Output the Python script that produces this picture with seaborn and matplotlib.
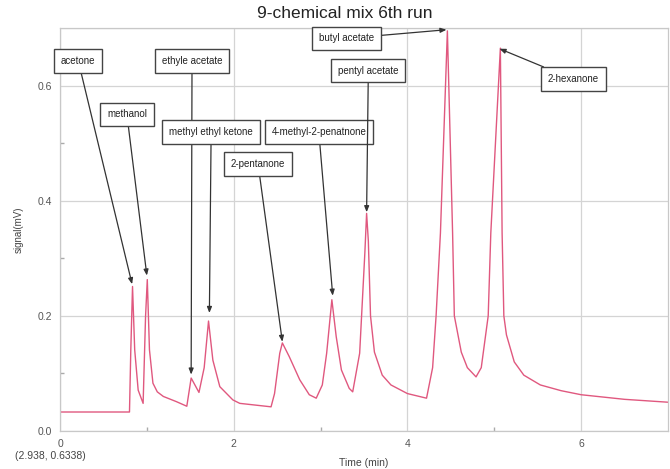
import numpy as np
import pandas as pd
import matplotlib
matplotlib.use("Agg")
import matplotlib.pyplot as plt
import seaborn as sns

# ---- data ----
time_min = [0.00, 0.80, 0.815, 0.835, 0.86, 0.90, 0.957, 0.985, 1.005, 1.03,
            1.07, 1.12, 1.19, 1.34, 1.46, 1.51, 1.60, 1.66, 1.71, 1.76, 1.84,
            1.99, 2.07, 2.25, 2.43, 2.47, 2.53, 2.56, 2.64, 2.76, 2.87, 2.95,
            3.02, 3.07, 3.13, 3.18, 3.24, 3.33, 3.37, 3.45, 3.51, 3.53, 3.55,
            3.575, 3.62, 3.71, 3.81, 4.00, 4.22, 4.29, 4.33, 4.38, 4.46, 4.52,
            4.54, 4.62, 4.69, 4.79, 4.85, 4.93, 4.96, 5.07, 5.09, 5.11, 5.14,
            5.23, 5.34, 5.53, 5.77, 6.00, 6.50, 7.00]
signal_mv = [0.033, 0.033, 0.14, 0.251, 0.141, 0.071, 0.048, 0.199, 0.263, 0.141,
             0.083, 0.068, 0.060, 0.051, 0.043, 0.092, 0.067, 0.11, 0.191, 0.123, 0.077,
             0.054, 0.048, 0.045, 0.042, 0.065, 0.135, 0.153, 0.129, 0.089, 0.063, 0.057,
             0.08, 0.135, 0.228, 0.164, 0.106, 0.074, 0.068, 0.135, 0.31, 0.378, 0.33,
             0.20, 0.137, 0.097, 0.080, 0.065, 0.057, 0.11, 0.20, 0.344, 0.695, 0.344,
             0.20, 0.137, 0.11, 0.094, 0.11, 0.20, 0.344, 0.665, 0.344, 0.20, 0.167,
             0.12, 0.097, 0.080, 0.070, 0.063, 0.055, 0.050]

labels = ["acetone", "methanol", "ethyle acetate", "methyl ethyl ketone",
          "2-pentanone", "4-methyl-2-penatnone", "pentyl acetate",
          "butyl acetate", "2-hexanone"]
peak_x = [0.83, 1.00, 1.51, 1.72, 2.56, 3.14, 3.53, 4.45, 5.06]
peak_y = [0.255, 0.270, 0.098, 0.205, 0.155, 0.235, 0.38, 0.697, 0.664]
box_x = [0.21, 0.77, 1.52, 1.74, 2.28, 2.98, 3.55, 3.30, 5.91]
box_y = [0.643, 0.550, 0.643, 0.519, 0.464, 0.519, 0.626, 0.682, 0.611]

x_ticks = [0, 2, 4, 6]
y_ticks = [0.0, 0.2, 0.4, 0.6]
y_tick_labels = ["0.0", "0.2", "0.4", "0.6"]

df = pd.DataFrame({"Time (min)": time_min, "signal(mV)": signal_mv})

sns.set_theme(style="white")
plt.rcParams["font.family"] = ["Liberation Sans", "DejaVu Sans"]

fig = plt.figure(figsize=(6.7, 4.69), dpi=100)
ax = fig.add_axes([60 / 670, 1 - 431 / 469, 608 / 670, 403 / 469])

sns.lineplot(data=df, x="Time (min)", y="signal(mV)", ax=ax,
             color="#e0587f", linewidth=1.0)

ax.set_xlim(0, 7)
ax.set_ylim(0, 0.7)
ax.set_xticks(x_ticks)
ax.set_xticklabels([str(v) for v in x_ticks])
ax.set_xticks([1, 3, 5], minor=True)
ax.set_yticks(y_ticks)
ax.set_yticklabels(y_tick_labels)
ax.set_yticks([0.1, 0.3, 0.5], minor=True)
ax.grid(True, which="major", color="#d4d4d4", linewidth=0.9)
ax.axhline(0.7, color="#d4d4d4", linewidth=0.9)
ax.tick_params(which="major", length=0, labelsize=7.5, colors="#555555", pad=6)
ax.tick_params(which="minor", length=3, direction="in", color="#aaaaaa")
ax.tick_params(axis="y", which="minor", left=True)
ax.tick_params(axis="x", which="minor", bottom=True)
for s in ax.spines.values():
    s.set_color("#c8c8c8")
    s.set_linewidth(0.9)

ax.set_xlabel("Time (min)", fontsize=7.5, color="#444444", labelpad=6)
ax.set_ylabel("signal(mV)", fontsize=7, color="#444444", labelpad=10)

fig.text(345 / 670, 1 - 14 / 469, "9-chemical mix 6th run", ha="center",
         va="center", fontsize=12.5, color="#222222")
fig.text(50 / 670, 1 - 456 / 469, "(2.938, 0.6338)", ha="center", va="center",
         fontsize=7.5, color="#444444")

for lab, px, py, bx, by in zip(labels, peak_x, peak_y, box_x, box_y):
    ax.annotate(lab, xy=(px, py), xytext=(bx, by), ha="center", va="center",
                fontsize=7, color="#222222",
                bbox=dict(boxstyle="square,pad=0.7", fc="white", ec="#444444", lw=1.0),
                arrowprops=dict(arrowstyle="-|>,head_length=0.5,head_width=0.2",
                                color="#333333", lw=0.9, shrinkA=0, shrinkB=0))

fig.savefig("out.png", dpi=100)
